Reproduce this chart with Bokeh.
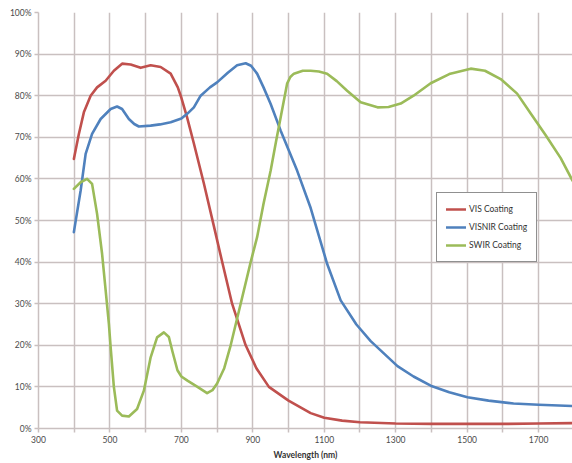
from bokeh.plotting import figure
from bokeh.models import FixedTicker, PrintfTickFormatter, Legend, LegendItem, Range1d
from bokeh.embed import file_html
from bokeh.resources import INLINE

# ---- data ----
vis_wl = [399, 413, 427, 446, 464, 488, 511, 534, 558, 586, 614, 642, 670, 690, 700, 716, 735, 763, 790, 813,
          842, 880, 910, 945, 1000, 1062, 1100, 1150, 1200, 1300, 1400, 1500, 1600, 1700, 1800]
vis_t = [64.8, 70.8, 76, 80, 82, 83.6, 86, 87.7, 87.5, 86.7, 87.3, 86.9, 85.3, 82, 79.5, 74.8, 68.5, 58.9, 49, 40.5,
         30, 20, 14.5, 10, 6.7, 3.7, 2.6, 1.9, 1.5, 1.2, 1.1, 1.1, 1.1, 1.2, 1.3]

visnir_wl = [399, 410, 418, 432, 450, 474, 502, 520, 534, 553, 568, 581, 614, 640, 670, 700, 717, 735, 754, 780,
             800, 830, 856, 880, 895, 912, 930, 950, 978, 1000, 1024, 1062, 1108, 1146, 1190, 1230, 1305, 1350,
             1398, 1450, 1501, 1560, 1630, 1700, 1800]
visnir_t = [47.2, 53, 57.2, 66, 70.8, 74.4, 76.8, 77.4, 76.8, 74.4, 73.2, 72.6, 72.8, 73.1, 73.6, 74.5, 75.7, 77.2, 80, 82,
            83.2, 85.5, 87.3, 87.8, 87.2, 85.3, 82, 78, 71.6, 67, 62, 53, 39.6, 30.8, 25, 21, 15, 12.5,
            10.3, 8.7, 7.5, 6.7, 6, 5.7, 5.4]

swir_wl = [399, 418, 436, 450, 464, 478, 488, 497, 502, 511, 520, 534, 553, 576, 595, 614, 632, 651, 665, 675,
           689, 700, 717, 745, 772, 787, 800, 820, 838, 866, 894, 912, 930, 950, 965, 978, 996, 1005, 1015, 1040,
           1062, 1085, 1108, 1135, 1164, 1202, 1249, 1280, 1314, 1350, 1398, 1450, 1510, 1550, 1594, 1640,
           1678, 1720, 1762, 1795]
swir_t = [57.6, 59.2, 60, 58.8, 51.6, 42, 33.2, 25.2, 19.5, 10, 4.3, 3.1, 2.9, 4.7, 9.1, 17.1, 21.9, 23.1, 22, 18.5,
          14, 12.5, 11.5, 10, 8.5, 9.2, 10.8, 14.5, 20, 30, 40, 46, 54, 62, 69, 74.8, 82.9, 84.5, 85.3, 86,
          86, 85.8, 85.3, 83.5, 81.2, 78.4, 77.2, 77.3, 78.1, 80, 83, 85.2, 86.5, 86, 84, 80.5,
          75.7, 70.5, 65, 59.6]

x_major = [300, 500, 700, 900, 1100, 1300, 1500, 1700]
x_minor = [400, 600, 800, 1000, 1200, 1400, 1600, 1800]
y_ticks = [0, 10, 20, 30, 40, 50, 60, 70, 80, 90, 100]

series_names = ["VIS Coating", "VISNIR Coating", "SWIR Coating"]
series_colors = ["#c0504d", "#4f81bd", "#9bbb59"]

GRID = "#c9c0c0"
FONT = "Lato"

p = figure(width=572, height=463, output_backend="svg", toolbar_location=None,
           x_range=Range1d(300, 1795), y_range=Range1d(0, 100),
           min_border_left=38, min_border_top=12, min_border_right=0, min_border_bottom=35)
p.outline_line_color = None
p.background_fill_color = "white"

p.xaxis.ticker = FixedTicker(ticks=x_major, minor_ticks=x_minor)
p.yaxis.ticker = FixedTicker(ticks=y_ticks)
p.yaxis.formatter = PrintfTickFormatter(format="%d%%")

for g in (p.xgrid, p.ygrid):
    g.grid_line_color = GRID
    g.grid_line_width = 1.5
p.xgrid.minor_grid_line_color = GRID
p.xgrid.minor_grid_line_width = 1.5

for ax in (p.xaxis, p.yaxis):
    ax.axis_line_color = GRID
    ax.axis_line_width = 1.5
    ax.major_tick_line_color = GRID
    ax.major_tick_line_width = 1.5
    ax.major_tick_in = 0
    ax.major_tick_out = 4
    ax.major_label_text_font = FONT
    ax.major_label_text_font_size = "8.5px"
    ax.major_label_text_color = "#4a4a4a"
    ax.major_label_standoff = 3
p.xaxis.minor_tick_line_color = GRID
p.xaxis.minor_tick_line_width = 1.5
p.xaxis.minor_tick_in = 0
p.xaxis.minor_tick_out = 4
p.yaxis.minor_tick_line_color = None

p.xaxis.axis_label = "Wavelength (nm)"
p.xaxis.axis_label_text_font = FONT
p.xaxis.axis_label_text_font_size = "8.5px"
p.xaxis.axis_label_text_font_style = "bold"
p.xaxis.axis_label_text_color = "#333333"
p.xaxis.axis_label_standoff = 4

renderers = []
for wl, t, c in ((vis_wl, vis_t, series_colors[0]), (visnir_wl, visnir_t, series_colors[1]),
                 (swir_wl, swir_t, series_colors[2])):
    r = p.line(wl, t, line_color=c, line_width=2.6, line_join="round", line_cap="round")
    renderers.append(r)

legend = Legend(items=[LegendItem(label=n, renderers=[r]) for n, r in zip(series_names, renderers)],
                location=(398, 166))
legend.border_line_color = "#222222"
legend.border_line_width = 1
legend.background_fill_color = "white"
legend.background_fill_alpha = 1
legend.label_text_font = FONT
legend.label_text_font_size = "8.5px"
legend.label_text_color = "#333333"
legend.glyph_width = 20
legend.glyph_height = 14
legend.label_height = 14
legend.label_standoff = 3
legend.spacing = 4
legend.padding = 9
legend.margin = 0
p.add_layout(legend, "center")

open("out.html", "w").write(file_html(p, INLINE))
